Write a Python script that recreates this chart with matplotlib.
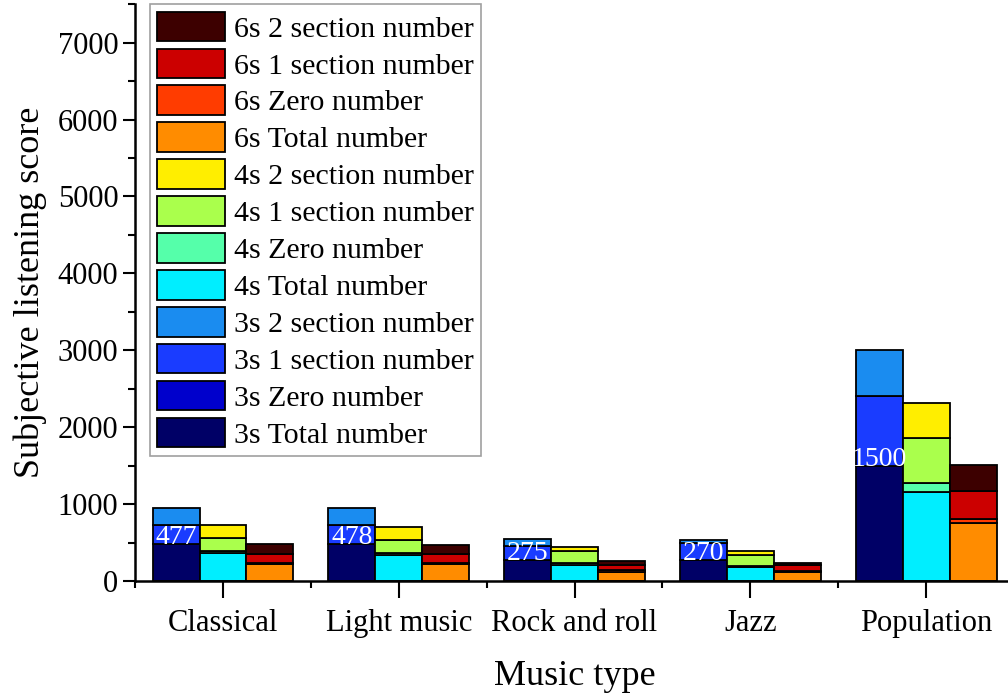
import numpy as np
from matplotlib import pyplot as plt
from matplotlib.ticker import MultipleLocator

# music types
categories = ['Classical', 'Light music', 'Rock and roll', 'Jazz', 'Population']

# 3s window
s3_total = [477, 478, 275, 270, 1500]
s3_zero = [0, 0, 0, 0, 0]
s3_one = [250, 250, 176, 220, 900]
s3_two = [225, 222, 91, 42, 600]

# 4s window
s4_total = [365, 335, 205, 182, 1160]
s4_zero = [26, 26, 30, 13, 115]
s4_one = [169, 169, 156, 139, 585]
s4_two = [165, 173, 52, 60, 455]

# 6s window
s6_total = [225, 221, 117, 117, 750]
s6_zero = [13, 13, 22, 13, 60]
s6_one = [109, 113, 65, 74, 365]
s6_two = [130, 125, 52, 34, 330]

groups = [
    ('3s', [s3_total, s3_zero, s3_one, s3_two], ['#000066', '#0000cc', '#1a3cff', '#1a8cf0']),
    ('4s', [s4_total, s4_zero, s4_one, s4_two], ['#00eeff', '#55ffaa', '#aaff4c', '#ffee00']),
    ('6s', [s6_total, s6_zero, s6_one, s6_two], ['#ff8c00', '#ff3c00', '#cc0000', '#3d0000']),
]
parts = ['Total number', 'Zero number', '1 section number', '2 section number']

plt.rcParams['font.family'] = ['Liberation Serif', 'DejaVu Serif']

fig = plt.figure(figsize=(10.08, 7.0), dpi=100)
ax = fig.add_axes([0.134, 0.17, 0.872, 0.824])

x = np.arange(len(categories))
w = 0.267
offsets = [-w, 0, w]

handles = []
for (name, series, colors), off in zip(groups, offsets):
    bottom = np.zeros(len(categories))
    for vals, col, part in zip(series, colors, parts):
        b = ax.bar(x + off, vals, w, bottom=bottom, color=col,
                   edgecolor='black', linewidth=1.3, label=f'{name} {part}')
        handles.append(b)
        bottom += np.array(vals)

# value labels on the 3s total
for xi, v in zip(x, s3_total):
    ax.text(xi - w, v, str(v), color='white', fontsize=20,
            ha='center', va='baseline')

ax.set_xlim(-0.5, 4.5)
ax.set_ylim(0, 7500)
ax.set_xticks(x)
ax.set_xticklabels(categories, fontsize=22)
ax.xaxis.set_minor_locator(MultipleLocator(1, offset=0.5))
ax.yaxis.set_major_locator(MultipleLocator(1000))
ax.yaxis.set_minor_locator(MultipleLocator(500))
ax.tick_params(axis='y', which='major', labelsize=22, length=9, width=1.5, pad=3)
ax.tick_params(axis='y', which='minor', length=5, width=1.5)
ax.tick_params(axis='x', which='major', length=12, width=1.5, pad=8)
ax.tick_params(axis='x', which='minor', length=5, width=1.5)

for side in ['top', 'right']:
    ax.spines[side].set_visible(False)
for side in ['left', 'bottom']:
    ax.spines[side].set_linewidth(1.8)

ax.set_xlabel('Music type', fontsize=26, labelpad=16)
ax.set_ylabel('Subjective listening score', fontsize=26, labelpad=8)

leg = ax.legend(handles=handles[::-1], loc='upper left', fontsize=21.5,
                bbox_to_anchor=(0.017, 1.0), frameon=True, fancybox=False,
                handlelength=2.25, handleheight=1.15, handletextpad=0.3,
                labelspacing=0.2, borderpad=0.25, borderaxespad=0.0)
leg.get_frame().set_edgecolor('#888888')
leg.get_frame().set_linewidth(1.2)

plt.savefig('out.png', dpi=100)
